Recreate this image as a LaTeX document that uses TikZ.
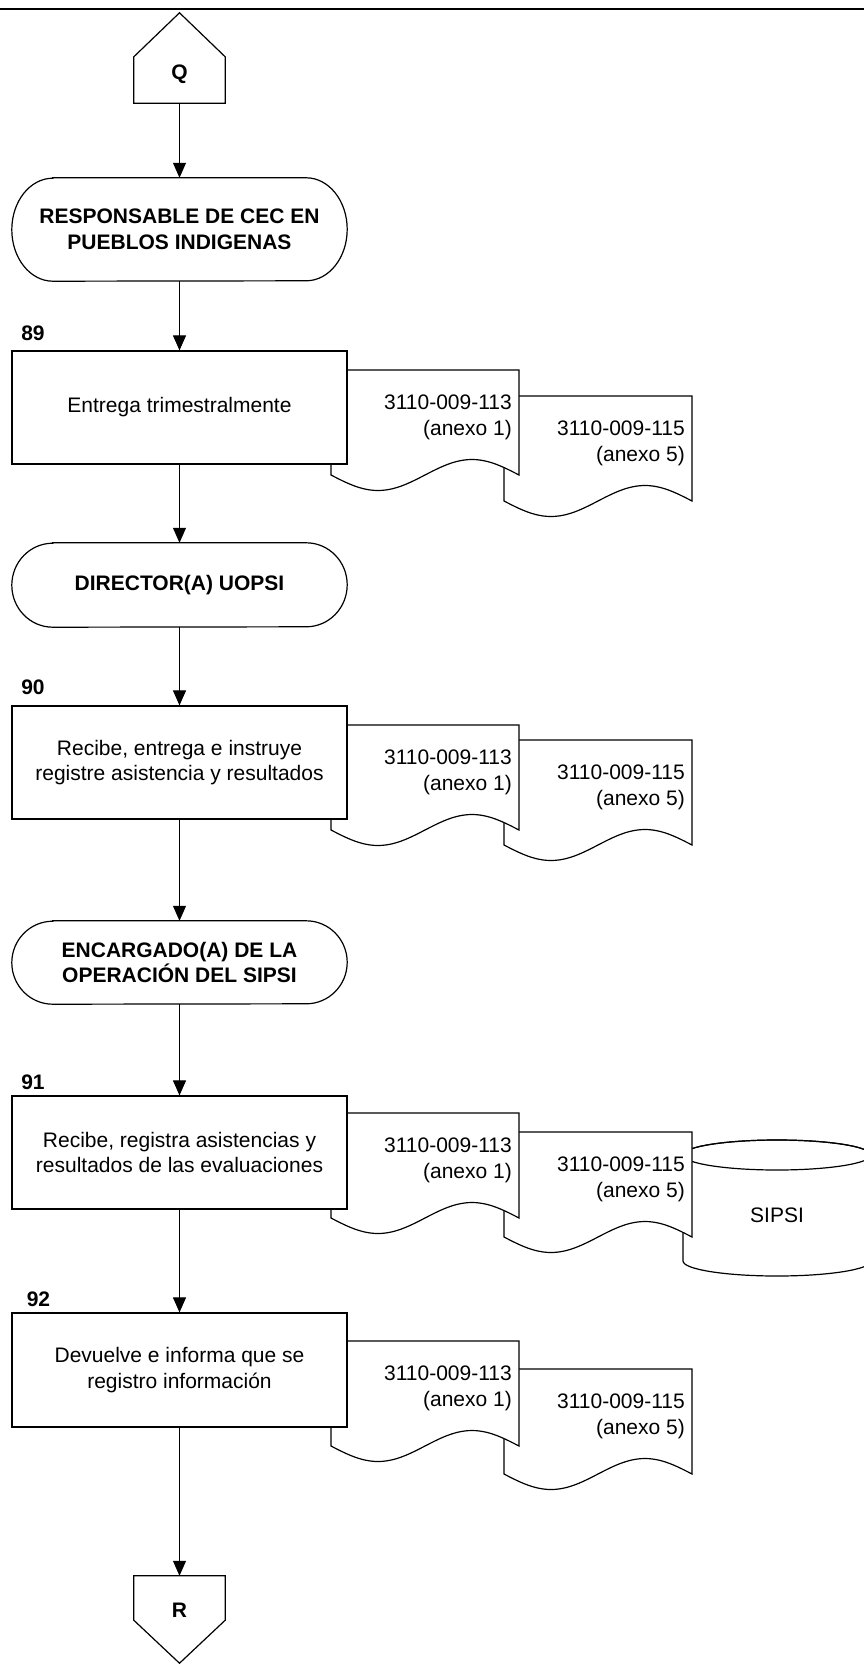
\documentclass[tikz,border=0pt]{standalone}
\usepackage{fontspec}
\setmainfont{Liberation Sans}
\usetikzlibrary{arrows.meta,calc}

\tikzset{
  outline/.style={draw=black, line width=1.2pt, fill=white},
  txt/.style={font=\fontsize{21}{25.5}\selectfont, align=center},
  boldtxt/.style={font=\fontsize{21}{25.5}\selectfont\bfseries, align=center},
  stepbox/.style={outline, txt, minimum width=335pt, inner sep=2pt},
  actor/.style={boldtxt, minimum width=335pt, inner sep=2pt},
  connector/.style={draw=black, line width=1pt, -{Triangle[length=15pt,width=13pt]}},
  doctext/.style={font=\fontsize{21}{25.5}\selectfont, align=right, inner sep=0pt, anchor=north east},
  steplabel/.style={font=\fontsize{21}{24}\selectfont\bfseries, inner sep=0pt},
  offpage/.style={minimum width=91pt, inner sep=0pt},
}

% Document symbol: #1 name of its text, #2 left, #3 top, #4 and #5 text lines
\newcommand{\docsheet}[5]{%
  \draw[outline] (#2,#3) -- (#2+188,#3) -- (#2+188,#3+105)
    -- plot[domain=1:0, samples=49, smooth] ({#2+188*\x},{#3+105+15.5*sin(360*\x)})
    -- cycle;
  \node[doctext] (#1) at (#2+181,#3+25) {#4\\#5};
}

% Terminator with elliptical ends: #1 name, #2 x, #3 y, #4 height, #5 text
\newcommand{\actorbox}[5]{%
  \node[actor, minimum height=#4pt] (#1) at (#2,#3) {#5};
  \draw[line width=1.2pt] ($(#1.north west)+(41,0)$) -- ($(#1.north east)+(-41,0)$)
    arc[start angle=-90, end angle=90, x radius=41, y radius=#4/2]
    -- ($(#1.south west)+(41,0)$)
    arc[start angle=90, end angle=270, x radius=41, y radius=#4/2] -- cycle;
}

\begin{document}
\begin{tikzpicture}[x=1pt,y=-1pt]
  \useasboundingbox (0,0) rectangle (864,1664);
  \clip (0,0) rectangle (864,1664);

  % header rule
  \draw[line width=2pt] (0,9) -- (864,9);

  % off-page connector Q
  \node[offpage, minimum height=46pt] (qbox) at (179.5,80) {};
  \draw[outline] (qbox.south west) -- (qbox.north west) -- ($(qbox.north)+(0,-44)$)
    -- (qbox.north east) -- (qbox.south east) -- cycle;
  \node[boldtxt, inner sep=0pt] (qlabel) at (179.5,74) {Q};

  % database SIPSI (behind the documents of step 91)
  \draw[outline] (683,1155) -- (683,1261)
    arc[start angle=180, end angle=0, x radius=94, y radius=15]
    -- (871,1155)
    arc[start angle=0, end angle=-180, x radius=94, y radius=15] -- cycle;
  \draw[line width=1.2pt] (777,1155) ellipse[x radius=94, y radius=15];
  \node[txt] (sipsi) at (777,1215) {SIPSI};

  % documents (back sheet first)
  \docsheet{f89b}{504}{396}{3110-009-115}{(anexo 5)}
  \docsheet{f89a}{331}{370}{3110-009-113}{(anexo 1)}
  \docsheet{f90b}{504}{740}{3110-009-115}{(anexo 5)}
  \docsheet{f90a}{331}{725}{3110-009-113}{(anexo 1)}
  \docsheet{f91b}{504}{1132}{3110-009-115}{(anexo 5)}
  \docsheet{f91a}{331}{1113}{3110-009-113}{(anexo 1)}
  \docsheet{f92b}{504}{1369}{3110-009-115}{(anexo 5)}
  \docsheet{f92a}{331}{1341}{3110-009-113}{(anexo 1)}

  % actors
  \actorbox{resp}{179.5}{229.5}{103}{RESPONSABLE DE CEC EN\\PUEBLOS INDIGENAS}
  \actorbox{dir}{179.5}{585}{84}{DIRECTOR(A) UOPSI}
  \actorbox{enc}{179.5}{962.5}{83}{ENCARGADO(A) DE LA\\OPERACIÓN DEL SIPSI}

  % steps
  \node[stepbox, minimum height=113pt] (s89) at (179.5,407.5) {Entrega trimestralmente};
  \node[stepbox, minimum height=113pt] (s90) at (179.5,762.5) {Recibe, entrega e instruye\\registre asistencia y resultados};
  \node[stepbox, minimum height=113pt] (s91) at (179.5,1152.5) {Recibe, registra asistencias y\\resultados de las evaluaciones};
  \node[stepbox, minimum height=114pt] (s92) at (179.5,1370) {Devuelve e informa que se\\registro información};

  % step numbers
  \node[steplabel] (n89) at (33,333) {89};
  \node[steplabel] (n90) at (33,687) {90};
  \node[steplabel] (n91) at (33,1082) {91};
  \node[steplabel] (n92) at (38.5,1299) {92};

  % off-page connector R
  \node[offpage, minimum height=44pt] (rbox) at (179.5,1598) {};
  \draw[outline] (rbox.north west) -- (rbox.north east) -- (rbox.south east)
    -- ($(rbox.south)+(0,43)$) -- (rbox.south west) -- cycle;
  \node[boldtxt, inner sep=0pt] (rlabel) at (179.5,1610) {R};

  % flow
  \draw[connector] (qbox.south) -- (resp.north);
  \draw[connector] (resp.south) -- (s89.north);
  \draw[connector] (s89.south) -- (dir.north);
  \draw[connector] (dir.south) -- (s90.north);
  \draw[connector] (s90.south) -- (enc.north);
  \draw[connector] (enc.south) -- (s91.north);
  \draw[connector] (s91.south) -- (s92.north);
  \draw[connector] (s92.south) -- (rbox.north);
\end{tikzpicture}
\end{document}
